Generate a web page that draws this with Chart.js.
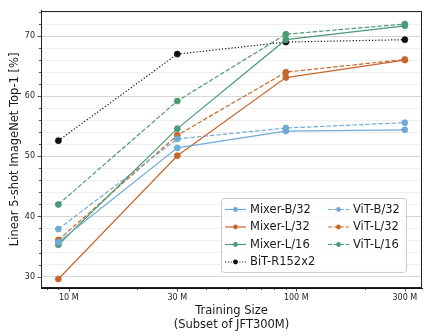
<!DOCTYPE html>
<html>
<head>
<meta charset="utf-8">
<script src="https://cdn.jsdelivr.net/npm/chart.js@4"></script>
<style>
html,body{margin:0;padding:0;background:#fff;}
#c{display:block;}
</style>
</head>
<body>
<canvas id="c" width="439" height="336"></canvas>
<script>
// Training set sizes (millions of JFT images)
const sizes = [9, 30, 90, 300];
const seriesNames = ["Mixer-B/32", "Mixer-L/32", "Mixer-L/16", "BiT-R152x2", "ViT-B/32", "ViT-L/32", "ViT-L/16"];
const mixerB32 = [35.7, 51.4, 54.2, 54.4];
const mixerL32 = [29.6, 50.1, 63.1, 66.0];
const mixerL16 = [35.3, 54.6, 69.4, 71.7];
const bitR152x2 = [52.6, 67.0, 69.0, 69.4];
const vitB32 = [37.9, 52.9, 54.7, 55.6];
const vitL32 = [36.1, 53.5, 64.0, 66.1];
const vitL16 = [42.0, 59.2, 70.3, 72.0];
const xTickLabels = [10, 30, 100, 300];
const xMinorTicks = [8, 9, 10, 20, 30, 40, 50, 60, 70, 80, 90, 100, 200, 300];
const yTickValues = [30, 32, 34, 36, 38, 40, 42, 44, 46, 48, 50, 52, 54, 56, 58, 60, 62, 64, 66, 68, 70, 72, 74];

const BLUE = '#6fabd6', ORANGE = '#c7672d', GREEN = '#4b9a75', BLACK = '#111111';
const FONT = '"DejaVu Sans", sans-serif';

function ds(label, vals, color, dash) {
  return {
    label: label,
    data: sizes.map((s, i) => ({x: s, y: vals[i]})),
    borderColor: color,
    backgroundColor: color,
    borderWidth: 1.2,
    borderDash: dash,
    pointRadius: 3,
    pointBorderWidth: 0.8,
    pointBackgroundColor: color,
    pointBorderColor: color,
    tension: 0
  };
}
const DASH = [4.5, 2];
const DOT = [1.2, 2];
const datasets = [
  ds(seriesNames[0], mixerB32, BLUE, []),
  ds(seriesNames[1], mixerL32, ORANGE, []),
  ds(seriesNames[2], mixerL16, GREEN, []),
  ds(seriesNames[3], bitR152x2, BLACK, DOT),
  ds(seriesNames[4], vitB32, BLUE, DASH),
  ds(seriesNames[5], vitL32, ORANGE, DASH),
  ds(seriesNames[6], vitL16, GREEN, DASH)
];

const extras = {
  id: 'extras',
  afterDraw(chart) {
    const ctx = chart.ctx;
    const a = chart.chartArea;
    const xs = chart.scales.x, ys = chart.scales.y;
    ctx.save();
    // frame
    ctx.strokeStyle = '#222';
    ctx.lineWidth = 1;
    ctx.strokeRect(Math.round(a.left) + 0.5, Math.round(a.top) + 0.5, Math.round(a.right - a.left) - 1, Math.round(a.bottom - a.top) - 1);
    // y ticks
    ctx.strokeStyle = '#222';
    ctx.lineWidth = 0.8;
    yTickValues.forEach(v => {
      const y = Math.round(ys.getPixelForValue(v)) + 0.5;
      const len = (v % 10 === 0) ? 3.5 : 2;
      ctx.beginPath();
      ctx.moveTo(a.left, y);
      ctx.lineTo(a.left - len, y);
      ctx.stroke();
    });
    // x ticks
    xMinorTicks.forEach(v => {
      const x = Math.round(xs.getPixelForValue(v)) + 0.5;
      const len = xTickLabels.includes(v) ? 3.5 : 2;
      ctx.beginPath();
      ctx.moveTo(x, a.bottom);
      ctx.lineTo(x, a.bottom + len);
      ctx.stroke();
    });
    // legend
    const bx = 221.5, by = 198.5, bw = 185, bh = 74;
    ctx.fillStyle = 'rgba(255,255,255,0.85)';
    ctx.strokeStyle = '#cccccc';
    ctx.lineWidth = 1;
    ctx.beginPath();
    ctx.roundRect(bx, by, bw, bh, 3);
    ctx.fill();
    ctx.stroke();
    const rows = [209.5, 227, 244.5, 262];
    const cols = [{h0: 225, h1: 246, t: 250}, {h0: 328, h1: 349, t: 353}];
    ctx.font = '11.5px ' + FONT;
    ctx.textBaseline = 'middle';
    ctx.textAlign = 'left';
    chart.data.datasets.forEach((d, i) => {
      const col = i < 4 ? cols[0] : cols[1];
      const y = rows[i < 4 ? i : i - 4];
      ctx.strokeStyle = d.borderColor;
      ctx.lineWidth = 1.2;
      ctx.setLineDash(d.borderDash && d.borderDash.length ? d.borderDash.map(v => v * 0.9) : []);
      ctx.beginPath();
      ctx.moveTo(col.h0, y);
      ctx.lineTo(col.h1, y);
      ctx.stroke();
      ctx.setLineDash([]);
      ctx.fillStyle = d.borderColor;
      ctx.beginPath();
      ctx.arc((col.h0 + col.h1) / 2, y, 2.4, 0, Math.PI * 2);
      ctx.fill();
      ctx.fillStyle = '#1a1a1a';
      ctx.fillText(d.label, col.t, y + 0.5);
    });
    ctx.restore();
  }
};

new Chart(document.getElementById('c'), {
  type: 'line',
  data: {datasets: datasets},
  plugins: [extras],
  options: {
    responsive: false,
    animation: false,
    devicePixelRatio: 1,
    layout: {padding: {top: 9, right: 17, left: 0, bottom: 0}},
    plugins: {legend: {display: false}, tooltip: {enabled: false}},
    scales: {
      x: {
        type: 'logarithmic',
        min: 7.55,
        max: 357,
        afterBuildTicks: s => { s.ticks = xTickLabels.map(v => ({value: v})); },
        afterFit: s => { s.height = 48; },
        grid: {display: false, drawTicks: false},
        border: {display: true, color: '#111', width: 1},
        ticks: {
          autoSkip: false,
          maxRotation: 0,
          padding: 5,
          color: '#222',
          font: {family: FONT, size: 8},
          callback: v => v + ' M'
        },
        title: {
          display: true,
          text: ['Training Size', '(Subset of JFT300M)'],
          color: '#1a1a1a',
          font: {family: FONT, size: 11.5, lineHeight: '14px'},
          padding: {top: 0, bottom: 4}
        }
      },
      y: {
        type: 'linear',
        min: 28.1,
        max: 74.2,
        afterBuildTicks: s => { s.ticks = yTickValues.map(v => ({value: v})); },
        afterFit: s => { s.width = 41; },
        grid: {
          drawTicks: false,
          lineWidth: 1,
          color: c => (c.tick && c.tick.value % 10 === 0) ? '#d6d6d6' : '#efefef'
        },
        border: {display: true, color: '#111', width: 1},
        ticks: {
          autoSkip: false,
          padding: 6,
          color: '#222',
          font: {family: FONT, size: 8},
          callback: v => (v % 10 === 0 ? String(v) : '')
        },
        title: {
          display: true,
          text: 'Linear 5-shot ImageNet Top-1 [%]',
          color: '#1a1a1a',
          font: {family: FONT, size: 11.5, lineHeight: '14px'},
          padding: {top: 8.5, bottom: 0}
        }
      }
    }
  }
});
</script>
</body>
</html>
